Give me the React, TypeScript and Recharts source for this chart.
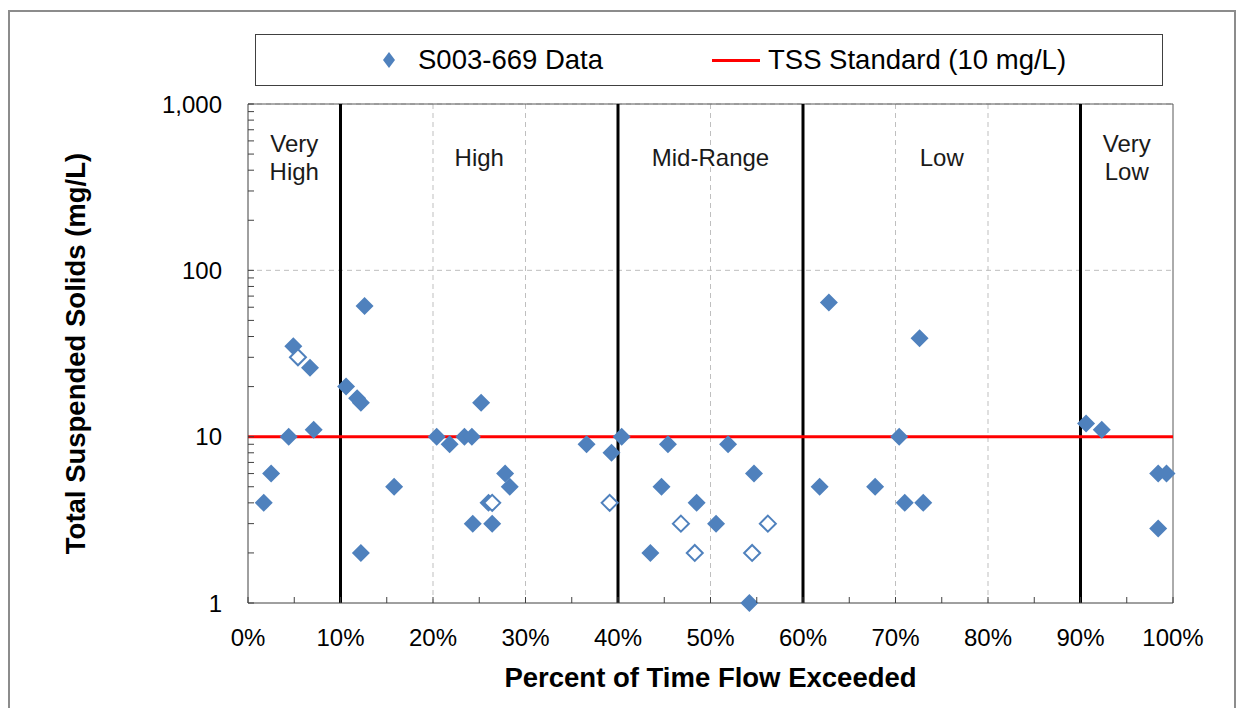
import React from "react";
import {
  ScatterChart,
  Scatter,
  XAxis,
  YAxis,
  CartesianGrid,
  ReferenceLine,
  ReferenceArea,
} from "recharts";

// sampled TSS values (percent of time flow exceeded, mg/L)
const dataPct = [
  1.7, 2.5, 4.4, 4.9, 6.7, 7.1, 10.6, 11.8, 12.2, 12.6, 12.2, 15.8, 20.4, 21.8,
  23.4, 24.2, 25.2, 24.3, 26.0, 26.4, 27.8, 28.3, 36.6, 39.3, 40.4, 43.5, 44.7,
  45.4, 48.5, 50.6, 51.9, 54.7, 54.2, 62.8, 61.8, 67.8, 72.6, 70.4, 71.0, 73.0,
  90.6, 92.3, 98.4, 99.3, 98.4,
];
const dataTss = [
  4, 6, 10, 35, 26, 11, 20, 17, 16, 61, 2, 5, 10, 9, 10, 10, 16, 3, 4, 3, 6, 5,
  9, 8, 10, 2, 5, 9, 4, 3, 9, 6, 1, 64, 5, 5, 39, 10, 4, 4, 12, 11, 6, 6, 2.8,
];
// hollow markers
const openPct = [5.4, 26.4, 39.1, 46.8, 48.3, 54.5, 56.2];
const openTss = [30, 4, 4, 3, 2, 2, 3];

const tssStandard = 10;
const flowBreaks = [10, 40, 60, 90];
const regionStart = [0, 10, 40, 60, 90];
const regionEnd = [10, 40, 60, 90, 100];
const regionNames = [["Very", "High"], ["High"], ["Mid-Range"], ["Low"], ["Very", "Low"]];

const xTicks = [0, 5, 10, 15, 20, 25, 30, 35, 40, 45, 50, 55, 60, 65, 70, 75, 80, 85, 90, 95, 100];
const yTicks = [
  1, 2, 3, 4, 5, 6, 7, 8, 9, 10, 20, 30, 40, 50, 60, 70, 80, 90, 100, 200, 300,
  400, 500, 600, 700, 800, 900, 1000,
];
const yLabelTicks = [1, 10, 100, 1000];
const gridX = [20, 30, 50, 70, 80];
const gridY = [10, 100, 1000];

const filled = dataPct.map((p, i) => ({ pct: p, tss: dataTss[i] }));
const hollow = openPct.map((p, i) => ({ pct: p, tss: openTss[i] }));

const FONT = "'Liberation Sans', Arial, sans-serif";
const BLUE = "#4F81BD";
const AXIS = "#404040";
const TICK_GAP = 26;

const FilledDiamond = (props: any) => {
  const { cx, cy } = props;
  const r = 9;
  return (
    <polygon
      points={`${cx},${cy - r} ${cx + r},${cy} ${cx},${cy + r} ${cx - r},${cy}`}
      fill={BLUE}
    />
  );
};

const OpenDiamond = (props: any) => {
  const { cx, cy } = props;
  const r = 8;
  return (
    <polygon
      points={`${cx},${cy - r} ${cx + r},${cy} ${cx},${cy + r} ${cx - r},${cy}`}
      fill="#fff"
      stroke={BLUE}
      strokeWidth={2}
    />
  );
};

// ticks point into the plot, labels only on the major values
const XTick = (props: any) => {
  const { x, y, payload } = props;
  const v = payload.value;
  const axisY = y - TICK_GAP;
  return (
    <g>
      <line x1={x} x2={x} y1={axisY} y2={axisY - 6} stroke={AXIS} />
      {v % 10 === 0 && (
        <text
          x={x}
          y={y}
          dy="0.71em"
          textAnchor="middle"
          fontFamily={FONT}
          fontSize={24}
          fill="#000"
        >
          {`${v}%`}
        </text>
      )}
    </g>
  );
};

const YTick = (props: any) => {
  const { x, y, payload } = props;
  const v = payload.value;
  const axisX = x + TICK_GAP;
  return (
    <g>
      <line x1={axisX} x2={axisX + 6} y1={y} y2={y} stroke={AXIS} />
      {yLabelTicks.includes(v) && (
        <text
          x={x}
          y={y}
          dominantBaseline="central"
          textAnchor="end"
          fontFamily={FONT}
          fontSize={24}
          fill="#000"
        >
          {v.toLocaleString("en-US")}
        </text>
      )}
    </g>
  );
};

const RegionLabel = (props: any) => {
  const { viewBox, lines } = props;
  const cx = viewBox.x + viewBox.width / 2;
  const top = viewBox.y;
  const ys = lines.length === 2 ? [top + 39, top + 67] : [top + 53];
  return (
    <g>
      {lines.map((t: string, i: number) => (
        <text
          key={t + i}
          x={cx}
          y={ys[i]}
          textAnchor="middle"
          dominantBaseline="central"
          fontFamily={FONT}
          fontSize={24}
          fill="#1a1a1a"
        >
          {t}
        </text>
      ))}
    </g>
  );
};

const XTitle = (props: any) => {
  const { viewBox } = props;
  return (
    <text
      x={viewBox.x + viewBox.width / 2}
      y={viewBox.y + 74}
      textAnchor="middle"
      dominantBaseline="central"
      fontFamily={FONT}
      fontSize={27.5}
      fontWeight="bold"
      fill="#000"
    >
      Percent of Time Flow Exceeded
    </text>
  );
};

const YTitle = (props: any) => {
  const { viewBox } = props;
  const cx = viewBox.x + viewBox.width - 173;
  const cy = viewBox.y + viewBox.height / 2;
  return (
    <text
      x={cx}
      y={cy}
      transform={`rotate(-90, ${cx}, ${cy})`}
      textAnchor="middle"
      dominantBaseline="central"
      fontFamily={FONT}
      fontSize={27.5}
      fontWeight="bold"
      fill="#000"
    >
      Total Suspended Solids (mg/L)
    </text>
  );
};

function LegendBox() {
  return (
    <div
      style={{
        position: "absolute",
        left: 245,
        top: 22,
        width: 906,
        height: 50,
        border: "1px solid #404040",
        fontFamily: FONT,
        fontSize: 27.5,
        color: "#000",
      }}
    >
      <svg width={20} height={20} style={{ position: "absolute", left: 123, top: 15 }}>
        <polygon points="10,2 16,10 10,18 4,10" fill={BLUE} />
      </svg>
      <span style={{ position: "absolute", left: 162, top: 9, lineHeight: "32px" }}>
        S003-669 Data
      </span>
      <div
        style={{
          position: "absolute",
          left: 456,
          top: 24,
          width: 48,
          height: 3,
          background: "#FF0000",
        }}
      />
      <span style={{ position: "absolute", left: 512, top: 9, lineHeight: "32px" }}>
        TSS Standard (10 mg/L)
      </span>
    </div>
  );
}

export default function App() {
  return (
    <div
      style={{
        position: "relative",
        width: 1224,
        height: 700,
        marginTop: 2,
        border: "2px solid #8c8c8c",
        background: "#fff",
      }}
    >
      <ScatterChart
        width={1224}
        height={700}
        margin={{ top: 92, right: 61, bottom: 49, left: 158 }}
      >
        <CartesianGrid
          horizontalValues={gridY}
          verticalValues={gridX}
          stroke="#BFBFBF"
          strokeDasharray="5 4"
        />
        <XAxis
          type="number"
          dataKey="pct"
          domain={[0, 100]}
          ticks={xTicks}
          interval={0}
          tickLine={false}
          tickSize={0}
          tickMargin={TICK_GAP}
          height={60}
          stroke={AXIS}
          tick={XTick}
          label={{ content: XTitle }}
        />
        <YAxis
          type="number"
          dataKey="tss"
          scale="log"
          domain={[1, 1000]}
          ticks={yTicks}
          interval={0}
          tickLine={false}
          tickSize={0}
          tickMargin={TICK_GAP}
          width={80}
          stroke={AXIS}
          tick={YTick}
          label={{ content: YTitle }}
        />
        {regionStart.map((s, i) => (
          <ReferenceArea
            key={"r" + i}
            x1={s}
            x2={regionEnd[i]}
            fill="none"
            fillOpacity={0}
            label={{ content: (p: any) => <RegionLabel {...p} lines={regionNames[i]} /> }}
          />
        ))}
        <ReferenceLine y={1000} stroke="#595959" strokeWidth={1} />
        <ReferenceLine x={100} stroke="#595959" strokeWidth={1} />
        {flowBreaks.map((b) => (
          <ReferenceLine key={"b" + b} x={b} stroke="#000" strokeWidth={3} />
        ))}
        <ReferenceLine y={tssStandard} stroke="#FF0000" strokeWidth={3} />
        <Scatter
          name="S003-669 Data"
          data={filled}
          shape={FilledDiamond}
          isAnimationActive={false}
        />
        <Scatter
          name="S003-669 Data (open)"
          data={hollow}
          shape={OpenDiamond}
          isAnimationActive={false}
        />
      </ScatterChart>
      <LegendBox />
    </div>
  );
}
